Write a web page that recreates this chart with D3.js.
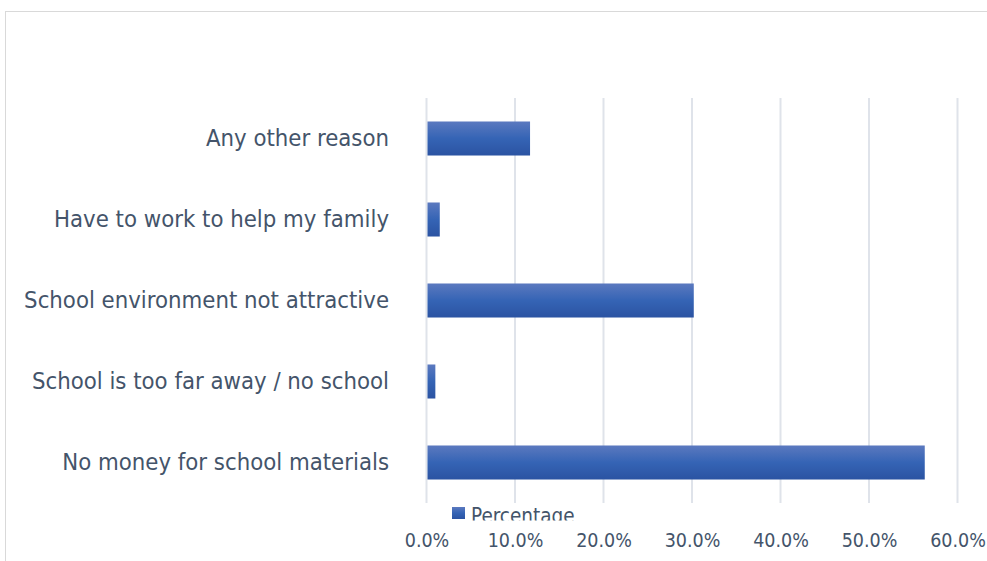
<!DOCTYPE html>
<html>
<head>
<meta charset="utf-8">
<script src="https://cdn.jsdelivr.net/npm/d3@7/dist/d3.min.js"></script>
<style>
  html, body { margin: 0; padding: 0; background: #ffffff; }
  svg { display: block; }
  text { font-family: "Liberation Sans Narrow", "DejaVu Sans Condensed", "Lato", sans-serif; fill: #44546A; }
</style>
</head>
<body>
<svg id="chart" width="987" height="561"></svg>
<script>
// ---- data ----
const categories = [
  "Any other reason",
  "Have to work to help my family",
  "School environment not attractive",
  "School is too far away / no school",
  "No money for school materials"
];
const percentages = [0.117, 0.015, 0.302, 0.010, 0.563];
const tickValues = [0, 0.1, 0.2, 0.3, 0.4, 0.5, 0.6];
const seriesName = "Percentage";

// ---- layout ----
const plot = { left: 426.5, right: 957.5, top: 98, bottom: 503 };

const svg = d3.select("#chart");

// outer chart-area frame (only top-left edges visible)
svg.append("rect")
  .attr("x", 5.5).attr("y", 11.5)
  .attr("width", 1200).attr("height", 800)
  .attr("fill", "#ffffff")
  .attr("stroke", "#d9d9d9").attr("stroke-width", 1);

const defs = svg.append("defs");
const grad = defs.append("linearGradient")
  .attr("id", "barGrad").attr("x1", 0).attr("y1", 0).attr("x2", 0).attr("y2", 1);
grad.append("stop").attr("offset", "0%").attr("stop-color", "#5b79bf");
grad.append("stop").attr("offset", "50%").attr("stop-color", "#3564b5");
grad.append("stop").attr("offset", "100%").attr("stop-color", "#2b53a2");

const x = d3.scaleLinear().domain([0, 0.6]).range([plot.left, plot.right]);
const y = d3.scaleBand().domain(categories)
  .range([plot.top, plot.bottom]).paddingInner(0.58).paddingOuter(0.29);

// gridlines
svg.append("g").selectAll("line").data(tickValues).join("line")
  .attr("x1", d => x(d)).attr("x2", d => x(d))
  .attr("y1", plot.top).attr("y2", plot.bottom)
  .attr("stroke", "#dfe3ea").attr("stroke-width", 2);

// bars
svg.append("g").selectAll("rect").data(categories).join("rect")
  .attr("x", x(0) + 1)
  .attr("y", d => y(d))
  .attr("width", (d, i) => x(percentages[i]) - x(0) - 1)
  .attr("height", y.bandwidth())
  .attr("fill", "url(#barGrad)");

// x axis labels
const xAxis = d3.axisBottom(x).tickValues(tickValues).tickFormat(d3.format(".1%")).tickSize(0).tickPadding(0);
const gx = svg.append("g").attr("transform", `translate(0, 533.5)`).call(xAxis);
gx.select(".domain").remove();
gx.selectAll("text")
  .attr("dy", "0.71em")
  .style("font-size", "19.5px")
  .style("fill", "#44546A")
  .style("font-family", null);

// y axis labels
const yAxis = d3.axisLeft(y).tickSize(0).tickPadding(0);
const gy = svg.append("g").attr("transform", `translate(389, 0)`).call(yAxis);
gy.select(".domain").remove();
gy.selectAll("text")
  .style("font-size", "23.7px")
  .style("fill", "#44546A")
  .style("font-family", null);

// legend (clipped like the reference)
defs.append("clipPath").attr("id", "legClip")
  .append("rect").attr("x", 440).attr("y", 500).attr("width", 200).attr("height", 20.5);
const leg = svg.append("g").attr("clip-path", "url(#legClip)");
leg.append("rect").attr("x", 452).attr("y", 507).attr("width", 13).attr("height", 12)
  .attr("fill", "url(#barGrad)");
leg.append("text").attr("x", 471).attr("y", 523)
  .style("font-size", "20.5px").text(seriesName);
</script>
</body>
</html>
